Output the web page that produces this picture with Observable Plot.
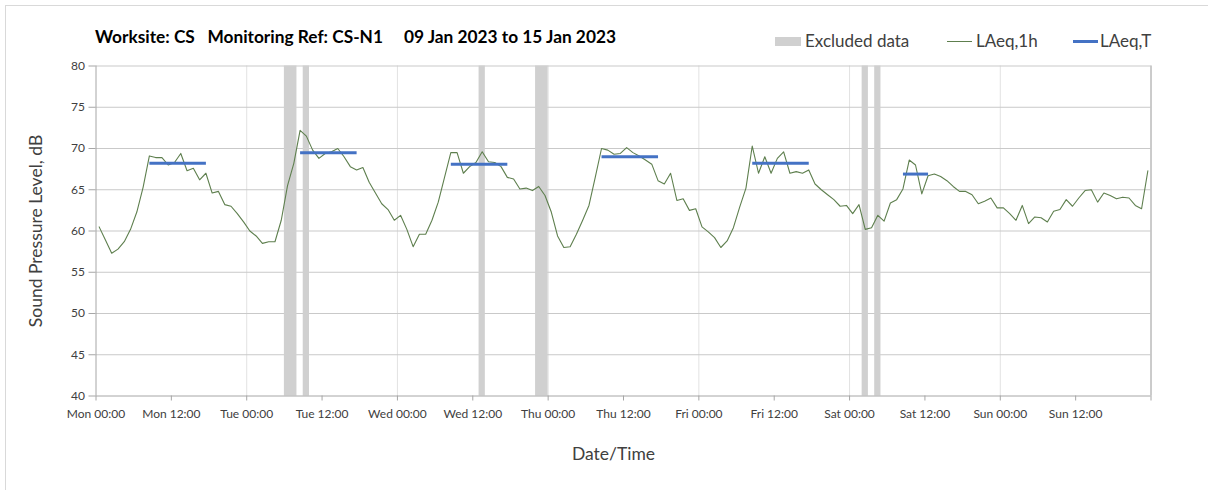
<!DOCTYPE html>
<html>
<head>
<meta charset="utf-8">
<script src="https://cdn.jsdelivr.net/npm/d3@7"></script>
<script src="https://cdn.jsdelivr.net/npm/@observablehq/plot@0.6"></script>
<style>
  body { margin: 0; background: #fff; font-family: Lato, "Open Sans", sans-serif; }
  #wrap { position: relative; width: 1208px; height: 490px; overflow: hidden; background: #fff; }
  #frame { position: absolute; left: 5px; top: 5px; width: 1400px; height: 700px; border-left: 1px solid #d9d9d9; border-top: 1px solid #d9d9d9; }
  #chart { position: absolute; left: 0; top: 0; }
  #title { position: absolute; left: 95px; top: 26px; font-weight: bold; font-size: 17.3px; white-space: pre; color: #000; }
  .lg { position: absolute; top: 30px; font-size: 17px; color: #404040; white-space: pre; }
  .sw { position: absolute; }
</style>
</head>
<body>
<div id="wrap">
  <div id="frame"></div>
  <div id="chart"></div>
  <div id="title">Worksite: CS   Monitoring Ref: CS-N1     09 Jan 2023 to 15 Jan 2023</div>
  <div class="sw" style="left:775px;top:37px;width:26px;height:9px;background:#d0d0d0"></div>
  <div class="lg" style="left:805px">Excluded data</div>
  <div class="sw" style="left:947px;top:41px;width:25px;height:1px;background:#5e7f4e"></div>
  <div class="lg" style="left:976px">LAeq,1h</div>
  <div class="sw" style="left:1073px;top:40px;width:25px;height:3px;background:#4472c4"></div>
  <div class="lg" style="left:1100px">LAeq,T</div>
</div>
<script>
// Hourly LAeq,1h values, Mon 09 Jan 2023 00:00 onwards (168 hours)
const laeq1h = [
  60.5, 58.9, 57.3, 57.8, 58.7, 60.2, 62.3, 65.3, 69.1, 68.9, 68.9, 68.0,
  68.3, 69.4, 67.3, 67.6, 66.2, 67.0, 64.6, 64.8, 63.2, 63.0, 62.1, 61.1,
  60.0, 59.4, 58.5, 58.7, 58.7, 61.3, 65.5, 68.2, 72.2, 71.5, 69.8, 68.8,
  69.4, 69.6, 70.0, 69.0, 67.8, 67.4, 67.7, 65.9, 64.6, 63.3, 62.6, 61.3,
  61.9, 60.2, 58.1, 59.6, 59.6, 61.3, 63.5, 66.5, 69.5, 69.5, 67.0, 67.8,
  68.3, 69.6, 68.4, 68.3, 67.8, 66.5, 66.3, 65.1, 65.2, 64.9, 65.4, 64.3,
  62.3, 59.4, 58.0, 58.1, 59.6, 61.3, 63.1, 66.5, 70.0, 69.8, 69.3, 69.4,
  70.1, 69.5, 69.1, 68.6, 68.1, 66.1, 65.7, 67.0, 63.7, 63.9, 62.5, 62.7,
  60.5, 59.9, 59.2, 58.0, 58.8, 60.4, 62.9, 65.2, 70.3, 67.0, 69.0, 67.0,
  68.8, 69.6, 67.0, 67.2, 67.0, 67.4, 65.7, 65.0, 64.4, 63.8, 63.0, 63.1,
  62.1, 63.2, 60.2, 60.4, 61.9, 61.2, 63.4, 63.8, 65.1, 68.6, 68.0, 64.5,
  66.7, 66.9, 66.6, 66.1, 65.4, 64.8, 64.8, 64.4, 63.3, 63.6, 64.0, 62.8,
  62.8, 62.1, 61.3, 63.1, 60.9, 61.7, 61.6, 61.1, 62.4, 62.6, 63.8, 63.0,
  64.0, 64.9, 65.0, 63.5, 64.6, 64.3, 63.9, 64.1, 64.0, 63.1, 62.7, 67.3
];

// LAeq,T periods (first and last hour index, level)
const periodFirstHour = [8, 32, 56, 80, 104, 128];
const periodLastHour  = [17, 41, 65, 89, 113, 132];
const periodLevel     = [68.2, 69.5, 68.1, 69.0, 68.2, 66.9];

// Excluded data windows (hour from, hour to)
const excludedFrom = [30, 33, 61, 70, 122, 124];
const excludedTo   = [32, 34, 62, 72, 123, 125];

// Axis tick labels, every 12 hours
const xTickLabels = ["Mon 00:00", "Mon 12:00", "Tue 00:00", "Tue 12:00", "Wed 00:00", "Wed 12:00",
  "Thu 00:00", "Thu 12:00", "Fri 00:00", "Fri 12:00", "Sat 00:00", "Sat 12:00", "Sun 00:00", "Sun 12:00"];
const yTicks = [40, 45, 50, 55, 60, 65, 70, 75, 80];

const series = laeq1h.map((v, i) => ({hour: i + 0.5, value: v}));
const periods = periodLevel.map((v, i) => ({from: periodFirstHour[i] + 0.5, to: periodLastHour[i] + 0.5, level: v}));
const excluded = excludedFrom.map((f, i) => ({from: f, to: excludedTo[i]}));
const xTicks = d3.range(0, 169, 12);
const dayTicks = d3.range(24, 169, 24);

const chart = Plot.plot({
  width: 1208,
  height: 490,
  marginLeft: 95.5,
  marginRight: 57.5,
  marginTop: 65.5,
  marginBottom: 94.5,
  style: {fontFamily: "Lato, 'Open Sans', sans-serif", background: "transparent"},
  x: {domain: [0, 168]},
  y: {domain: [40, 80]},
  marks: [
    Plot.gridX(dayTicks, {stroke: "#e2e2e2", strokeOpacity: 1}),
    Plot.gridY(yTicks.slice(1), {stroke: "#c9c9c9", strokeOpacity: 1}),
    Plot.rect(excluded, {x1: "from", x2: "to", fill: "#d0d0d0"}),
    Plot.ruleX([168], {stroke: "#bfbfbf", strokeWidth: 1.5}),
    Plot.ruleX([0], {stroke: "#a6a6a6"}),
    Plot.ruleY([40], {stroke: "#a6a6a6"}),
    Plot.axisY({ticks: yTicks, tickSize: 7, tickPadding: 4, label: null, fontSize: 12, stroke: "#a6a6a6", fill: "#404040"}),
    Plot.axisX({ticks: xTicks, tickFormat: d => xTickLabels[d / 12] ?? "", tickSize: 5, tickPadding: 8, label: null, fontSize: 12, stroke: "#a6a6a6", fill: "#404040"}),
    Plot.line(series, {x: "hour", y: "value", stroke: "#5e7f4e", strokeWidth: 1.1}),
    Plot.link(periods, {x1: "from", x2: "to", y1: "level", y2: "level", stroke: "#4472c4", strokeWidth: 3}),
    Plot.text(["Sound Pressure Level, dB"], {frameAnchor: "left", textAnchor: "middle", lineAnchor: "middle", rotate: -90, dx: -60, fontSize: 17.5, fill: "#404040"}),
    Plot.text(["Date/Time"], {frameAnchor: "bottom", dy: 64, dx: -10, fontSize: 17.5, fill: "#404040"})
  ]
});
document.getElementById("chart").appendChild(chart);
</script>
</body>
</html>
